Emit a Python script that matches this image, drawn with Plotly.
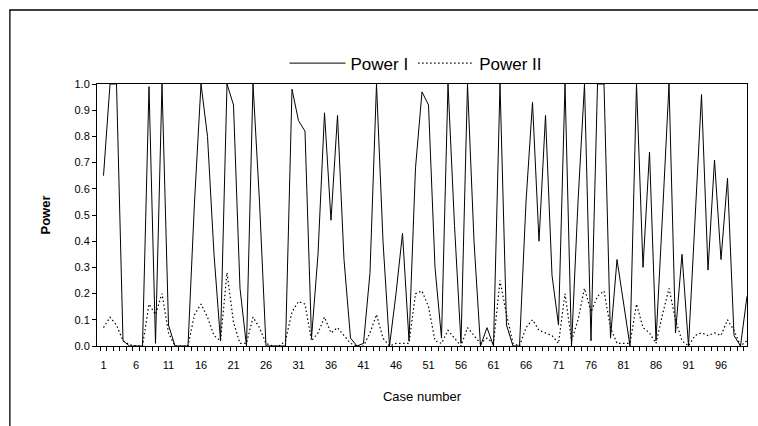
import plotly.graph_objects as go

cases = list(range(1, 101))

power_1 = [0.65, 1.0, 1.0, 0.02, 0.0, 0.0, 0.0, 0.99, 0.01, 1.0,
           0.08, 0.0, 0.0, 0.0, 0.55, 1.0, 0.8, 0.35, 0.02, 1.0,
           0.92, 0.22, 0.0, 1.0, 0.55, 0.0, 0.0, 0.0, 0.0, 0.98,
           0.86, 0.82, 0.03, 0.35, 0.89, 0.48, 0.88, 0.33, 0.03, 0.0,
           0.01, 0.28, 1.0, 0.4, 0.0, 0.2, 0.43, 0.02, 0.68, 0.97,
           0.92, 0.3, 0.03, 1.0, 0.46, 0.01, 1.0, 0.4, 0.0, 0.07,
           0.0, 1.0, 0.08, 0.0, 0.0, 0.55, 0.93, 0.40, 0.88, 0.27,
           0.08, 1.0, 0.0, 0.55, 1.0, 0.02, 1.0, 1.0, 0.03, 0.33,
           0.16, 0.0, 1.0, 0.30, 0.74, 0.02, 0.5, 1.0, 0.05, 0.35,
           0.0, 0.5, 0.96, 0.29, 0.71, 0.33, 0.64, 0.04, 0.0, 0.19]

power_2 = [0.07, 0.11, 0.08, 0.02, 0.005, 0.0, 0.0, 0.16, 0.12, 0.2,
           0.05, 0.0, 0.0, 0.0, 0.12, 0.16, 0.11, 0.04, 0.02, 0.28,
           0.09, 0.01, 0.01, 0.11, 0.07, 0.01, 0.0, 0.0, 0.02, 0.13,
           0.17, 0.16, 0.02, 0.05, 0.11, 0.05, 0.07, 0.04, 0.01, 0.0,
           0.0, 0.05, 0.12, 0.03, 0.0, 0.01, 0.01, 0.01, 0.2, 0.21,
           0.15, 0.02, 0.01, 0.06, 0.03, 0.0, 0.07, 0.04, 0.01, 0.03,
           0.01, 0.25, 0.12, 0.01, 0.0, 0.07, 0.1, 0.06, 0.05, 0.04,
           0.01, 0.2, 0.02, 0.1, 0.22, 0.13, 0.19, 0.21, 0.07, 0.01,
           0.01, 0.01, 0.16, 0.07, 0.05, 0.01, 0.12, 0.22, 0.1, 0.02,
           0.0, 0.04, 0.05, 0.04, 0.05, 0.04, 0.1, 0.06, 0.0, 0.02]

x_tick_vals = list(range(1, 100, 5))
x_tick_text = [str(v) for v in x_tick_vals]
x_minor_ticks = [v + 0.5 for v in range(0, 100)]
y_tick_vals = [i / 10 for i in range(11)]

FONT = "Liberation Sans, Arial, sans-serif"

fig = go.Figure()
fig.add_trace(go.Scatter(x=cases, y=power_1, mode="lines", name="Power I",
                         line=dict(color="black", width=1)))
fig.add_trace(go.Scatter(x=cases, y=power_2, mode="lines", name="Power II",
                         line=dict(color="black", width=1.2, dash="1.5px,2.5px")))

fig.update_layout(
    width=758, height=426,
    margin=dict(l=97, r=11, t=84, b=80, autoexpand=False),
    paper_bgcolor="white", plot_bgcolor="white",
    font=dict(family=FONT, color="black", size=11),
    showlegend=True,
    legend=dict(orientation="h", x=0.49, xanchor="center", y=1.078, yanchor="middle",
                font=dict(size=17, family=FONT, color="black"), bgcolor="rgba(0,0,0,0)",
                itemwidth=56, tracegroupgap=0),
    shapes=[dict(type="rect", xref="paper", yref="paper",
                 x0=-0.134, x1=1.05, y0=-0.4, y1=1.2824,
                 line=dict(color="black", width=1.3), fillcolor="rgba(0,0,0,0)",
                 layer="below")],
)

fig.update_xaxes(
    range=[0, 100], tickmode="array", tickvals=x_tick_vals, ticktext=x_tick_text,
    ticks="outside", ticklen=9, tickcolor="rgba(0,0,0,0)",
    showgrid=False, zeroline=False, automargin=False,
    showline=True, linecolor="black", linewidth=1, mirror=True,
    tickfont=dict(size=11, family=FONT, color="black"),
    minor=dict(tickmode="array", tickvals=x_minor_ticks, ticks="outside",
               ticklen=4, tickcolor="black", tickwidth=1, showgrid=False),
    title=dict(text="Case number", font=dict(size=13, family=FONT, color="black"), standoff=21),
)
fig.update_yaxes(
    range=[0, 1], tickmode="array", tickvals=y_tick_vals, tickformat=".1f",
    ticks="outside", ticklen=4, tickcolor="black", showgrid=False, zeroline=False,
    automargin=False,
    showline=True, linecolor="black", linewidth=1, mirror=True,
    tickfont=dict(size=11, family=FONT, color="black"),
    title=dict(text="<b>Power</b>", font=dict(size=13, family=FONT, color="black"), standoff=20),
)

fig.write_html("out.html", config={"displayModeBar": False},
               post_script="document.body.style.margin='0';")
